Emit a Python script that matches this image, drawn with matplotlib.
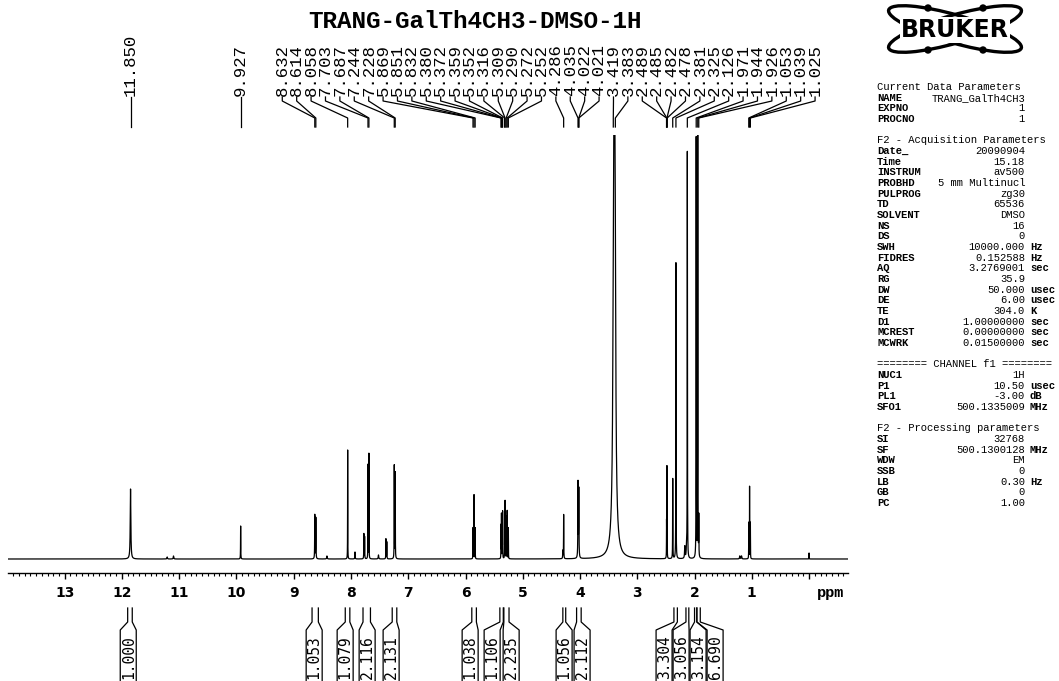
import numpy as np
import matplotlib
matplotlib.use("Agg")
import matplotlib.pyplot as plt
from matplotlib import transforms
from matplotlib.ticker import MultipleLocator
from matplotlib.patches import Ellipse, Circle

W, H = 1059, 681

# --- spectrum: peak positions (ppm), intensities, line widths (ppm) ---
peak_ppm = [11.850, 11.21, 11.10, 9.927, 8.632, 8.614, 8.42, 8.058, 7.93,
            7.775, 7.762, 7.703, 7.687, 7.52, 7.39, 7.375, 7.244, 7.228,
            5.869, 5.851, 5.832, 5.380, 5.372, 5.359, 5.352, 5.316, 5.309,
            5.290, 5.272, 5.252, 4.300, 4.286, 4.035, 4.022, 4.021,
            3.419, 3.401, 3.383, 2.489, 2.485, 2.482, 2.478, 2.381, 2.325,
            2.17, 2.14, 2.126, 1.971, 1.944, 1.926, 1.21, 1.18, 1.053,
            1.039, 1.025, 0.0]
peak_int = [70, 2, 3, 33, 44, 41, 3, 109, 7,
            25, 22, 94, 105, 4, 20, 17, 93, 86,
            31, 64, 31, 33, 44, 40, 46, 50, 56,
            42, 48, 31, 8, 44, 75, 40, 30,
            100, 500, 100, 30, 78, 78, 30, 80, 296,
            12, 11, 406, 420, 421, 40, 3, 3, 36,
            72, 36, 6]
peak_fwhm = [0.012, 0.01, 0.01, 0.004, 0.005, 0.005, 0.01, 0.003, 0.006,
             0.004, 0.004, 0.003, 0.003, 0.01, 0.004, 0.004, 0.004, 0.004,
             0.003, 0.003, 0.003, 0.003, 0.003, 0.003, 0.003, 0.003, 0.003,
             0.003, 0.003, 0.003, 0.006, 0.004, 0.006, 0.006, 0.006,
             0.015, 0.035, 0.015, 0.0025, 0.0025, 0.0025, 0.0025, 0.004, 0.004,
             0.01, 0.01, 0.004, 0.004, 0.004, 0.004, 0.01, 0.01, 0.003,
             0.003, 0.003, 0.003]

# peak-pick labels
pick_ppm = [11.850, 9.927, 8.632, 8.614, 8.058, 7.703, 7.687, 7.244, 7.228,
            5.869, 5.851, 5.832, 5.380, 5.372, 5.359, 5.352, 5.316, 5.309,
            5.290, 5.272, 5.252, 4.286, 4.035, 4.022, 4.021, 3.419, 3.383,
            2.489, 2.485, 2.482, 2.478, 2.381, 2.325, 2.126, 1.971, 1.944,
            1.926, 1.053, 1.039, 1.025]

# integrals: region start/end (ppm) and value
int_start = [11.90, 8.68, 8.10, 7.79, 7.28, 5.89, 5.40, 5.33, 4.30, 4.06,
             2.36, 2.15, 2.00, 1.96]
int_end = [11.82, 8.57, 8.02, 7.66, 7.20, 5.81, 5.34, 5.24, 4.25, 3.98,
           2.30, 2.10, 1.96, 1.90]
int_val = ["1.000", "1.053", "1.079", "2.116", "2.131", "1.038", "1.106",
           "2.235", "1.056", "2.112", "3.304", "3.056", "3.154", "6.690"]

title = "TRANG-GalTh4CH3-DMSO-1H"

params = [
    ("Current Data Parameters", None, None),
    ("NAME", "TRANG_GalTh4CH3", ""),
    ("EXPNO", "1", ""),
    ("PROCNO", "1", ""),
    ("", None, None),
    ("F2 - Acquisition Parameters", None, None),
    ("Date_", "20090904", ""),
    ("Time", "15.18", ""),
    ("INSTRUM", "av500", ""),
    ("PROBHD", "5 mm Multinucl", ""),
    ("PULPROG", "zg30", ""),
    ("TD", "65536", ""),
    ("SOLVENT", "DMSO", ""),
    ("NS", "16", ""),
    ("DS", "0", ""),
    ("SWH", "10000.000", "Hz"),
    ("FIDRES", "0.152588", "Hz"),
    ("AQ", "3.2769001", "sec"),
    ("RG", "35.9", ""),
    ("DW", "50.000", "usec"),
    ("DE", "6.00", "usec"),
    ("TE", "304.0", "K"),
    ("D1", "1.00000000", "sec"),
    ("MCREST", "0.00000000", "sec"),
    ("MCWRK", "0.01500000", "sec"),
    ("", None, None),
    ("======== CHANNEL f1 ========", None, None),
    ("NUC1", "1H", ""),
    ("P1", "10.50", "usec"),
    ("PL1", "-3.00", "dB"),
    ("SFO1", "500.1335009", "MHz"),
    ("", None, None),
    ("F2 - Processing parameters", None, None),
    ("SI", "32768", ""),
    ("SF", "500.1300128", "MHz"),
    ("WDW", "EM", ""),
    ("SSB", "0", ""),
    ("LB", "0.30", "Hz"),
    ("GB", "0", ""),
    ("PC", "1.00", ""),
]


def fy(ypx):
    return 1 - ypx / H


def px2ppm(dx):
    # width in ppm of dx pixels
    return dx / 57.27


fig = plt.figure(figsize=(W / 100, H / 100), dpi=100)
fig.patch.set_facecolor("white")

ax = fig.add_axes([8 / W, fy(573), 840 / W, 438 / H])
x = np.linspace(14.0, -0.7, 40001)
x = np.sort(np.concatenate([x, peak_ppm]))[::-1]
y = np.zeros_like(x)
for c, h, w in zip(peak_ppm, peak_int, peak_fwhm):
    y += h / (1 + ((x - c) / (w / 2)) ** 2)
ax.plot(x, y, color="black", lw=0.9)
ax.set_xlim(13.99, -0.68)
ax.set_ylim(-14, 424)
for s in ["left", "right", "top"]:
    ax.spines[s].set_visible(False)
ax.spines["bottom"].set_linewidth(1.0)
ax.set_yticks([])
ax.set_xticks(range(0, 14))
ax.set_xticklabels([""] + [str(i) for i in range(1, 14)])
ax.xaxis.set_minor_locator(MultipleLocator(0.1))
ax.tick_params(axis="x", which="major", direction="out", length=4.5, width=1,
               labelsize=10, pad=5)
ax.tick_params(axis="x", which="minor", direction="out", length=2, width=0.8)
for lbl in ax.get_xticklabels():
    lbl.set_fontweight("bold")

trans = transforms.blended_transform_factory(ax.transData, fig.transFigure)
ax.text(-0.38, fy(593), "ppm", transform=trans, ha="center", va="center",
        fontsize=11, fontweight="bold", family="Liberation Mono")

# title
fig.text(475 / W, fy(21), title, ha="center", va="center", fontsize=17.5,
         fontweight="bold", family="Liberation Mono")

# peak pick labels with connectors
group_x = np.linspace(9.20, -0.105, len(pick_ppm) - 2)
label_x = list(pick_ppm[:2]) + list(group_x)
for p, lx in zip(pick_ppm, label_x):
    ax.text(lx, fy(96), f"{p:.3f}", transform=trans, rotation=90,
            ha="center", va="bottom", fontsize=12.5, family="Liberation Mono")
    ax.plot([lx, lx, p, p], [fy(97), fy(101), fy(118), fy(127)],
            transform=trans, color="black", lw=0.9, clip_on=False)

# integrals
hw = px2ppm(8)
box_c = [11.89, 8.643, 8.102, 7.718, 7.299, 5.919, 5.535, 5.203, 4.278,
         3.964, 2.532, 2.235, 1.938, 1.641]
for a, b, v, c in zip(int_start, int_end, int_val, box_c):
    ax.plot([a, a, c + hw, c + hw], [fy(608), fy(622), fy(630), fy(690)],
            transform=trans, color="black", lw=0.9, clip_on=False)
    ax.plot([b, b, c - hw, c - hw], [fy(608), fy(622), fy(630), fy(690)],
            transform=trans, color="black", lw=0.9, clip_on=False)
    ax.text(c, fy(657), v, transform=trans, rotation=90, ha="center",
            va="center", fontsize=10.5, family="DejaVu Sans Mono")

# acquisition / processing parameters
fs = 7.6
for i, (k, v, u) in enumerate(params):
    yy = fy(87 + i * 10.67)
    if v is None:
        fig.text(877 / W, yy, k, ha="left", va="center", fontsize=fs,
                 family="Liberation Mono")
        continue
    fig.text(877 / W, yy, k, ha="left", va="center", fontsize=fs,
             family="Liberation Mono", fontweight="bold")
    fig.text(1025 / W, yy, v, ha="right", va="center", fontsize=fs,
             family="Liberation Mono")
    if u:
        fig.text(1030 / W, yy, u, ha="left", va="center", fontsize=fs,
                 family="Liberation Mono", fontweight="bold")

# Bruker logo
lax = fig.add_axes([870 / W, fy(62), 170 / W, 62 / H])
lax.set_xlim(870, 1040)
lax.set_ylim(62, 0)
lax.axis("off")
for ang in (16, -16):
    lax.add_patch(Ellipse((955, 29), 138, 28, angle=ang, fill=False,
                          lw=2.4, color="black"))
for cx, cy in [(928, 8), (928, 50), (983, 8), (983, 50)]:
    lax.add_patch(Circle((cx, cy), 3, color="black"))
lax.text(955, 30, "BRUKER", ha="center", va="center", fontsize=17,
         fontweight="heavy", family="DejaVu Sans", color="black",
         bbox=dict(boxstyle="square,pad=0.05", fc="white", ec="none"))

fig.savefig("out.png", dpi=100)
